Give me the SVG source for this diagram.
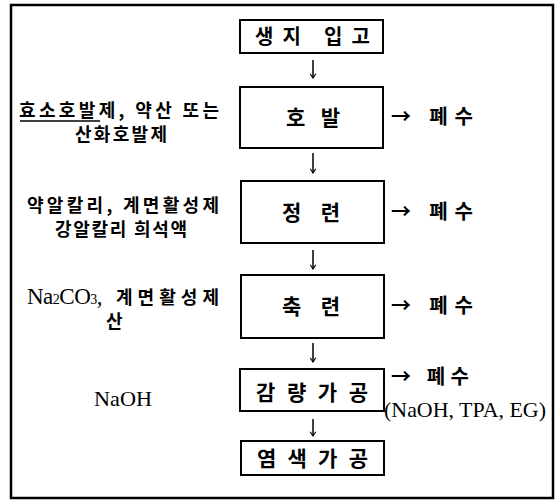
<svg xmlns="http://www.w3.org/2000/svg" width="558" height="501" viewBox="0 0 558 501">
<style>
.box{fill:#fff;stroke:#000;stroke-width:2}
.kb{font-family:"Noto Sans CJK KR","Noto Sans",sans-serif;font-weight:700;fill:#000}
.ko{font-family:"Noto Sans CJK KR","Noto Sans",sans-serif;font-weight:700;font-size:18px;fill:#000}
.se{font-family:"Liberation Serif","Noto Sans CJK KR",serif;fill:#000}
.conn{stroke:#000;stroke-width:1.5;fill:none}
</style>
<defs>
<marker id="ah" viewBox="0 0 10 10" refX="9" refY="5" markerWidth="7" markerHeight="7" markerUnits="userSpaceOnUse" orient="auto">
<path d="M3,1 L9,5 L3,9" fill="none" stroke="#000" stroke-width="1.6"/>
</marker>
</defs>
<rect x="0" y="0" width="558" height="501" fill="#fff"/>
<rect x="11" y="5" width="542" height="493" fill="none" stroke="#000" stroke-width="2.5"/>

<g id="connectors">
<line class="conn" x1="313" y1="60" x2="313" y2="78" marker-end="url(#ah)"/>
<line class="conn" x1="313" y1="153" x2="313" y2="173" marker-end="url(#ah)"/>
<line class="conn" x1="313" y1="250" x2="313" y2="269" marker-end="url(#ah)"/>
<line class="conn" x1="313" y1="343" x2="313" y2="362" marker-end="url(#ah)"/>
<line class="conn" x1="313" y1="419" x2="313" y2="436" marker-end="url(#ah)"/>
</g>

<g id="node-saengji">
<rect class="box" x="240" y="20" width="143" height="33"/>
<text class="kb" x="255" y="44" font-size="20" textLength="115" lengthAdjust="spacing">생지 입고</text>
</g>

<g id="node-hobal">
<rect class="box" x="240" y="87" width="143" height="61"/>
<text class="kb" x="286" y="125" font-size="21" textLength="54" lengthAdjust="spacing">호 발</text>
<text class="ko" x="19" y="117" textLength="200" lengthAdjust="spacing">효소호발제, 약산 또는</text>
<line x1="20" y1="121" x2="100" y2="121" stroke="#000" stroke-width="1.3"/>
<text class="ko" x="75" y="141" textLength="92" lengthAdjust="spacing">산화호발제</text>
<text class="kb" x="391" y="124" font-size="20" textLength="82" lengthAdjust="spacing">→ 폐수</text>
</g>

<g id="node-jeongryeon">
<rect class="box" x="241" y="181" width="143" height="62"/>
<text class="kb" x="282" y="220" font-size="21" textLength="58" lengthAdjust="spacing">정 련</text>
<text class="ko" x="27" y="212" textLength="192" lengthAdjust="spacing">약알칼리, 계면활성제</text>
<text class="ko" x="55" y="236" textLength="132" lengthAdjust="spacing">강알칼리 희석액</text>
<text class="kb" x="391" y="219" font-size="20" textLength="82" lengthAdjust="spacing">→ 폐수</text>
</g>

<g id="node-chukryeon">
<rect class="box" x="241" y="275" width="143" height="63"/>
<text class="kb" x="282" y="314" font-size="21" textLength="58" lengthAdjust="spacing">축 련</text>
<text class="se" x="27" y="304" font-size="23" letter-spacing="-0.5">Na<tspan font-size="14">2</tspan>CO<tspan font-size="14">3</tspan>,</text>
<text class="ko" x="116" y="304" textLength="103" lengthAdjust="spacing">계면활성제</text>
<text class="ko" x="106" y="328">산</text>
<text class="kb" x="391" y="313" font-size="20" textLength="82" lengthAdjust="spacing">→ 폐수</text>
</g>

<g id="node-gamryang">
<rect class="box" x="240" y="369" width="144" height="42"/>
<text class="kb" x="256" y="400" font-size="21" textLength="112" lengthAdjust="spacing">감 량 가 공</text>
<text class="se" x="94" y="406" font-size="22" textLength="58" lengthAdjust="spacingAndGlyphs">NaOH</text>
<text class="kb" x="391" y="384" font-size="20" textLength="78" lengthAdjust="spacing">→ 폐수</text>
<text class="se" x="384" y="417" font-size="21" textLength="162" lengthAdjust="spacingAndGlyphs">(NaOH, TPA, EG)</text>
</g>

<g id="node-yeomsaek">
<rect class="box" x="241" y="441" width="143" height="34"/>
<text class="kb" x="257" y="466" font-size="21" textLength="111" lengthAdjust="spacing">염 색 가 공</text>
</g>
</svg>
